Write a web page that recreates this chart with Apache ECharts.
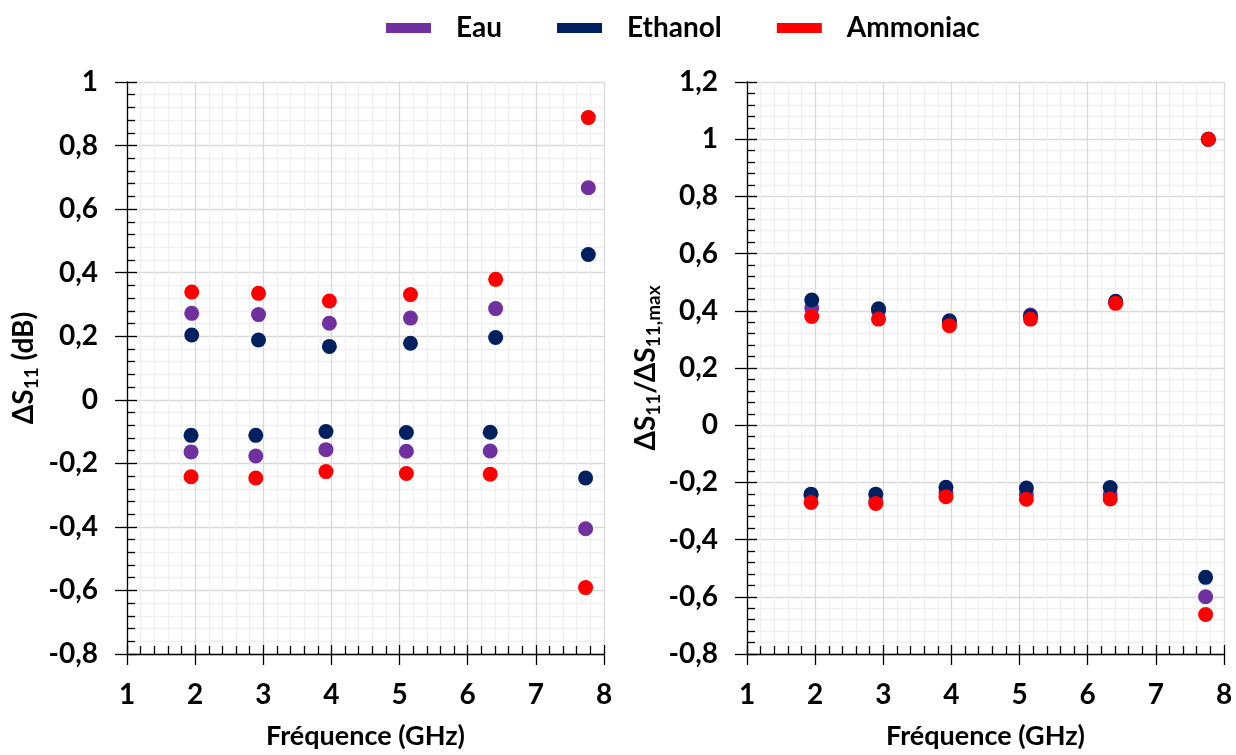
<!DOCTYPE html>
<html>
<head>
<meta charset="utf-8">
<script src="https://cdn.jsdelivr.net/npm/echarts@6/dist/echarts.min.js"></script>
<style>html,body{margin:0;padding:0;background:#fff;}#c{width:1236px;height:755px;}</style>
</head>
<body>
<div id="c"></div>
<script>
// Frequencies (GHz) of the upper (positive) and lower (negative) points
const freqHigh = [1.95, 2.93, 3.97, 5.16, 6.41, 7.77];
const freqLow  = [1.94, 2.89, 3.92, 5.10, 6.33, 7.73];

// Left chart: ΔS11 (dB)
const eauHigh = [0.272, 0.268, 0.241, 0.257, 0.287, 0.667];
const eauLow  = [-0.164, -0.177, -0.157, -0.162, -0.161, -0.406];
const ethHigh = [0.204, 0.188, 0.168, 0.178, 0.196, 0.457];
const ethLow  = [-0.112, -0.112, -0.100, -0.103, -0.102, -0.246];
const ammHigh = [0.339, 0.335, 0.311, 0.331, 0.379, 0.888];
const ammLow  = [-0.242, -0.246, -0.226, -0.232, -0.234, -0.591];

// Right chart: ΔS11 / ΔS11,max
const eauNHigh = [0.41, 0.40, 0.36, 0.385, 0.43, 1.0];
const eauNLow  = [-0.245, -0.265, -0.235, -0.243, -0.242, -0.60];
const ethNHigh = [0.438, 0.407, 0.365, 0.381, 0.433, 1.0];
const ethNLow  = [-0.241, -0.241, -0.217, -0.220, -0.218, -0.532];
const ammNHigh = [0.380, 0.371, 0.348, 0.371, 0.426, 1.0];
const ammNLow  = [-0.270, -0.274, -0.250, -0.259, -0.258, -0.662];

const seriesNames = ['Eau', 'Ethanol', 'Ammoniac'];
const colors = ['#7030A0', '#002060', '#FF0000'];

const xTitle = 'Fréquence (GHz)';

function pts(hi, lo) {
  const out = [];
  for (let i = 0; i < freqHigh.length; i++) out.push([freqHigh[i], hi[i]]);
  for (let i = 0; i < freqLow.length; i++) out.push([freqLow[i], lo[i]]);
  return out;
}

const FONT = 'Lato';
const fmt = v => (Math.round(v * 10) / 10).toString().replace('.', ',');

const gridLine = { show: true, lineStyle: { color: '#d9d9d9', width: 1.3 } };
const minorGridLine = { show: true, lineStyle: { color: '#f0f0f0', width: 1.3 } };
const axisLine = { show: true, onZero: false, lineStyle: { color: '#000', width: 1.3 } };
const labelStyle = { color: '#000', fontFamily: FONT, fontWeight: 'bold', fontSize: 28 };

const richName = {
  b: { fontFamily: FONT, fontWeight: 'bold', fontSize: 28, color: '#000', lineHeight: 34, verticalAlign: 'middle' },
  s: { fontFamily: FONT, fontWeight: 'bold', fontSize: 19, color: '#000', lineHeight: 19, verticalAlign: 'bottom' }
};

function mainX(gi) {
  return {
    type: 'value', gridIndex: gi, position: 'bottom', min: 1, max: 8, interval: 1,
    axisLine: axisLine,
    axisTick: { show: true, inside: false, length: 11, lineStyle: { color: '#000', width: 1.3 } },
    minorTick: { show: false },
    splitLine: gridLine,
    minorSplitLine: minorGridLine,
    axisLabel: Object.assign({ margin: 27, formatter: fmt }, labelStyle),
    name: xTitle, nameLocation: 'middle', nameGap: 69,
    nameTextStyle: { fontFamily: FONT, fontWeight: 'bold', fontSize: 27, color: '#000' }
  };
}
function overX(gi) {
  return {
    type: 'value', gridIndex: gi, position: 'bottom', offset: 0, min: 1, max: 8, interval: 1,
    axisLine: { show: false, onZero: false },
    axisTick: { show: true, inside: true, length: 9, lineStyle: { color: '#000', width: 1.3 } },
    minorTick: { show: true, splitNumber: 5, length: 8, lineStyle: { color: '#000', width: 1.3 } },
    splitLine: { show: false }, minorSplitLine: { show: false },
    axisLabel: { show: false }
  };
}
function mainY(gi, min, max, name, gap) {
  return {
    type: 'value', gridIndex: gi, position: 'left', min: min, max: max, interval: 0.2,
    axisLine: axisLine,
    axisTick: { show: true, inside: false, length: 12, lineStyle: { color: '#000', width: 1.3 } },
    minorTick: { show: false },
    splitLine: gridLine,
    minorSplitLine: minorGridLine,
    axisLabel: Object.assign({ margin: 29, formatter: fmt }, labelStyle),
    name: name, nameLocation: 'middle', nameRotate: 90, nameGap: gap,
    nameTextStyle: { rich: richName }
  };
}
function overY(gi, min, max) {
  return {
    type: 'value', gridIndex: gi, position: 'left', offset: 0, min: min, max: max, interval: 0.2,
    axisLine: { show: false, onZero: false },
    axisTick: { show: true, inside: true, length: 10, lineStyle: { color: '#000', width: 1.3 } },
    minorTick: { show: true, splitNumber: 5, length: 8, lineStyle: { color: '#000', width: 1.3 } },
    splitLine: { show: false }, minorSplitLine: { show: false },
    axisLabel: { show: false }
  };
}

const leftData = [pts(eauHigh, eauLow), pts(ethHigh, ethLow), pts(ammHigh, ammLow)];
const rightData = [pts(eauNHigh, eauNLow), pts(ethNHigh, ethNLow), pts(ammNHigh, ammNLow)];

const series = [];
for (let k = 0; k < 3; k++) {
  series.push({ name: seriesNames[k], type: 'scatter', xAxisIndex: 0, yAxisIndex: 0,
    data: leftData[k], symbol: 'circle', symbolSize: 15,
    itemStyle: { color: colors[k], opacity: 1 }, z: 3 + k });
}
for (let k = 0; k < 3; k++) {
  series.push({ name: seriesNames[k], type: 'scatter', xAxisIndex: 1, yAxisIndex: 1,
    data: rightData[k], symbol: 'circle', symbolSize: 15,
    itemStyle: { color: colors[k], opacity: 1 }, z: 3 + k });
}

const chart = echarts.init(document.getElementById('c'), null, { renderer: 'canvas' });
chart.setOption({
  backgroundColor: '#fff',
  animation: false,
  legend: {
    left: 381, top: 9,
    icon: 'rect', itemWidth: 45, itemHeight: 10, itemGap: 55,
    data: seriesNames.map(n => ({ name: n, icon: 'rect', itemStyle: { opacity: 1 } })),
    itemStyle: { opacity: 1 },
    textStyle: { fontFamily: FONT, fontWeight: 'bold', fontSize: 28, color: '#000', padding: [0, 0, 0, 20] }
  },
  grid: [
    { left: 127, top: 82, width: 477, height: 573 },
    { left: 747, top: 82, width: 477, height: 573 }
  ],
  xAxis: [mainX(0), mainX(1), overX(0), overX(1)],
  yAxis: [
    mainY(0, -0.8, 1, '{b|ΔS}{s|11}{b| (dB)}', 86),
    mainY(1, -0.8, 1.2, '{b|ΔS}{s|11}{b|/ΔS}{s|11,max}', 84),
    overY(0, -0.8, 1),
    overY(1, -0.8, 1.2)
  ],
  series: series
});
</script>
</body>
</html>
